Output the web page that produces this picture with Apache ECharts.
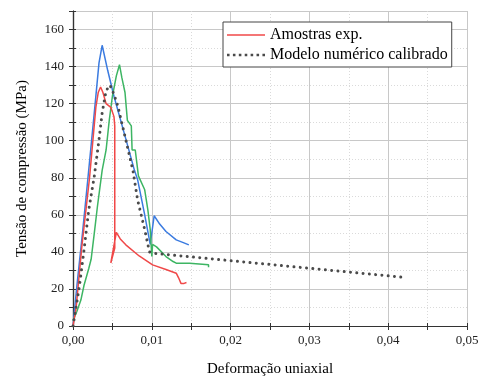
<!DOCTYPE html>
<html>
<head>
<meta charset="utf-8">
<script src="https://cdn.jsdelivr.net/npm/echarts@6/dist/echarts.min.js"></script>
<style>
html,body{margin:0;padding:0;background:#fff;}
#chart{width:478px;height:377px;}
</style>
</head>
<body>
<div id="chart"></div>
<script>
// ---- data ----
const xTicks = [0, 0.01, 0.02, 0.03, 0.04, 0.05];
const yTicks = [0, 20, 40, 60, 80, 100, 120, 140, 160];

const redStrain = [0, 0.0004, 0.0011, 0.0021, 0.0029, 0.0032, 0.0035, 0.0038, 0.0042, 0.0048, 0.0052, 0.0053, 0.0053, 0.0048, 0.0055, 0.0060, 0.0067, 0.0084, 0.0101, 0.0118, 0.0131, 0.0134, 0.0137, 0.0141, 0.0144];
const redStress = [0, 10, 42, 80, 118, 126, 129, 126, 120, 118, 113, 108, 42, 34, 50.5, 47, 43.8, 37.8, 33, 30.5, 28.5, 26, 23, 23, 23.5];

const blueStrain = [0, 0.0005, 0.0012, 0.0019, 0.0027, 0.0033, 0.0037, 0.0044, 0.0052, 0.0067, 0.0078, 0.0082, 0.0091, 0.0098, 0.0103, 0.0110, 0.0118, 0.0131, 0.0140, 0.0147];
const blueStress = [0, 22, 50, 80, 115, 142, 151.5, 138, 124, 101, 84, 79, 60, 44, 59.5, 55, 51, 46.5, 45, 43.8];

const greenStrain = [0, 0.0005, 0.0010, 0.0014, 0.0020, 0.0023, 0.0027, 0.0031, 0.0037, 0.0042, 0.0046, 0.0050, 0.0055, 0.0059, 0.0062, 0.0064, 0.0066, 0.0069, 0.0074, 0.0075, 0.0079, 0.0081, 0.0083, 0.0091, 0.0095, 0.0098, 0.0100, 0.0101, 0.0106, 0.0118, 0.0127, 0.0131, 0.0148, 0.0172, 0.0172];
const greenStress = [3, 8, 14, 22, 31, 36, 50, 64.5, 84, 95, 111, 124, 135, 141, 134, 133, 126, 111, 108, 95, 95, 88, 81, 73.5, 62.7, 52, 37.5, 44, 42.7, 37.5, 34.8, 33.9, 33.9, 33, 31.7];

const modelStrain = [0, 0.0008, 0.0014, 0.0020, 0.0027, 0.0033, 0.0037, 0.0042, 0.0047, 0.0052, 0.0057, 0.0067, 0.0076, 0.0082, 0.0091, 0.0097, 0.0101, 0.0419];
const modelStress = [0, 21, 41, 62.7, 80.7, 100.5, 115, 127, 130, 125, 118.5, 100.5, 84, 68, 52, 40, 39.3, 26.3];

const seriesNames = ['Amostras exp.', 'Modelo numérico calibrado'];
const xName = 'Deformação uniaxial';
const yName = 'Tensão de compressão (MPa)';
// --------------------------------------

const zip = (a, b) => a.map((v, i) => [v, b[i]]);
const FONT = 'Liberation Serif';
const AX = '#333';

// legend glyphs: a solid stroke and a row of dots
const solidIcon = 'path://M0,0h38v1.6h-38z';
let dots = '';
for (let k = 0; k < 7; k++) { const x0 = k * 6; dots += 'M' + x0 + ',0h2.6v2.6h-2.6z'; }
const dottedIcon = 'path://' + dots;

const chart = echarts.init(document.getElementById('chart'), null, {renderer: 'canvas'});
chart.setOption({
  animation: false,
  backgroundColor: '#fff',
  grid: {left: 73, right: 11, top: 11, bottom: 51, containLabel: false, outerBoundsMode: 'none'},
  legend: {
    data: [{name: seriesNames[0], icon: solidIcon}, {name: seriesNames[1], icon: dottedIcon}],
    orient: 'vertical',
    left: 223, top: 22,
    itemWidth: 38, itemHeight: 14, itemGap: 4,
    padding: [5, 4, 4, 4],
    borderColor: '#444', borderWidth: 1, backgroundColor: '#fff',
    itemStyle: {borderWidth: 0},
    textStyle: {fontFamily: FONT, fontSize: 16, color: '#000'}
  },
  xAxis: [
    {
      type: 'value', position: 'bottom', min: 0, max: 0.05, interval: 0.01,
      name: xName, nameLocation: 'middle', nameGap: 36,
      nameTextStyle: {fontFamily: FONT, fontSize: 15, color: '#000'},
      axisLine: {show: true, lineStyle: {color: AX, width: 1.2}},
      axisTick: {show: true, inside: false, length: 4, lineStyle: {color: AX}},
      axisLabel: {fontFamily: FONT, fontSize: 13, color: '#222', margin: 8,
        formatter: v => xTicks.some(t => Math.abs(t - v) < 1e-9) ? v.toFixed(2).replace('.', ',') : ''},
      splitLine: {show: true, lineStyle: {color: '#c8c8c8', width: 1}},
      minorTick: {show: false, splitNumber: 2},
      minorSplitLine: {show: true, lineStyle: {color: '#dadada', type: [1, 2]}}
    },
    {
      type: 'value', position: 'top', min: 0, max: 0.05, interval: 0.005,
      axisLine: {show: true, lineStyle: {color: AX, width: 1.2}},
      axisTick: {show: true, inside: true, length: 4, lineStyle: {color: AX}},
      axisLabel: {show: false}, splitLine: {show: false}
    },
    {
      type: 'value', position: 'bottom', min: 0, max: 0.05, interval: 0.005,
      axisLine: {show: false},
      axisTick: {show: true, inside: true, length: 3, lineStyle: {color: AX}},
      axisLabel: {show: false}, splitLine: {show: false}
    }
  ],
  yAxis: [
    {
      type: 'value', position: 'left', min: 0, max: 170, interval: 20,
      name: yName, nameLocation: 'middle', nameGap: 43, nameRotate: 90,
      nameTextStyle: {fontFamily: FONT, fontSize: 15, color: '#000'},
      axisLine: {show: true, lineStyle: {color: AX, width: 1.2}},
      axisTick: {show: true, inside: false, length: 4, lineStyle: {color: AX}},
      axisLabel: {fontFamily: FONT, fontSize: 13, color: '#222', margin: 9, showMaxLabel: false,
        formatter: v => yTicks.indexOf(v) >= 0 ? String(v) : ''},
      splitLine: {show: true, lineStyle: {color: '#c8c8c8', width: 1}},
      minorTick: {show: false, splitNumber: 2},
      minorSplitLine: {show: true, lineStyle: {color: '#dadada', type: [1, 2]}}
    },
    {
      type: 'value', position: 'right', min: 0, max: 170, interval: 10,
      axisLine: {show: true, lineStyle: {color: AX, width: 1.2}},
      axisTick: {show: true, inside: true, length: 4, lineStyle: {color: AX}},
      axisLabel: {show: false}, splitLine: {show: false}
    },
    {
      type: 'value', position: 'left', min: 0, max: 170, interval: 10,
      axisLine: {show: false},
      axisTick: {show: true, inside: true, length: 3, lineStyle: {color: AX}},
      axisLabel: {show: false}, splitLine: {show: false}
    }
  ],
  series: [
    {
      name: seriesNames[0], type: 'line', xAxisIndex: 0, yAxisIndex: 0,
      data: zip(redStrain, redStress), showSymbol: false, symbol: 'none',
      lineStyle: {color: '#f04848', width: 1.5}, itemStyle: {color: '#f04848'}, z: 3
    },
    {
      name: 'blue', type: 'line', xAxisIndex: 0, yAxisIndex: 0,
      data: zip(blueStrain, blueStress), showSymbol: false, symbol: 'none',
      lineStyle: {color: '#3b7be0', width: 1.5}, itemStyle: {color: '#3b7be0'}, z: 2
    },
    {
      name: 'green', type: 'line', xAxisIndex: 0, yAxisIndex: 0,
      data: zip(greenStrain, greenStress), showSymbol: false, symbol: 'none',
      lineStyle: {color: '#3db563', width: 1.5}, itemStyle: {color: '#3db563'}, z: 2
    },
    {
      name: seriesNames[1], type: 'line', xAxisIndex: 0, yAxisIndex: 0,
      data: zip(modelStrain, modelStress), showSymbol: false, symbol: 'none',
      lineStyle: {color: '#4a4a4a', width: 3, type: [0.01, 6.3], cap: 'round'},
      itemStyle: {color: '#4a4a4a'}, z: 4
    }
  ]
});
</script>
</body>
</html>
